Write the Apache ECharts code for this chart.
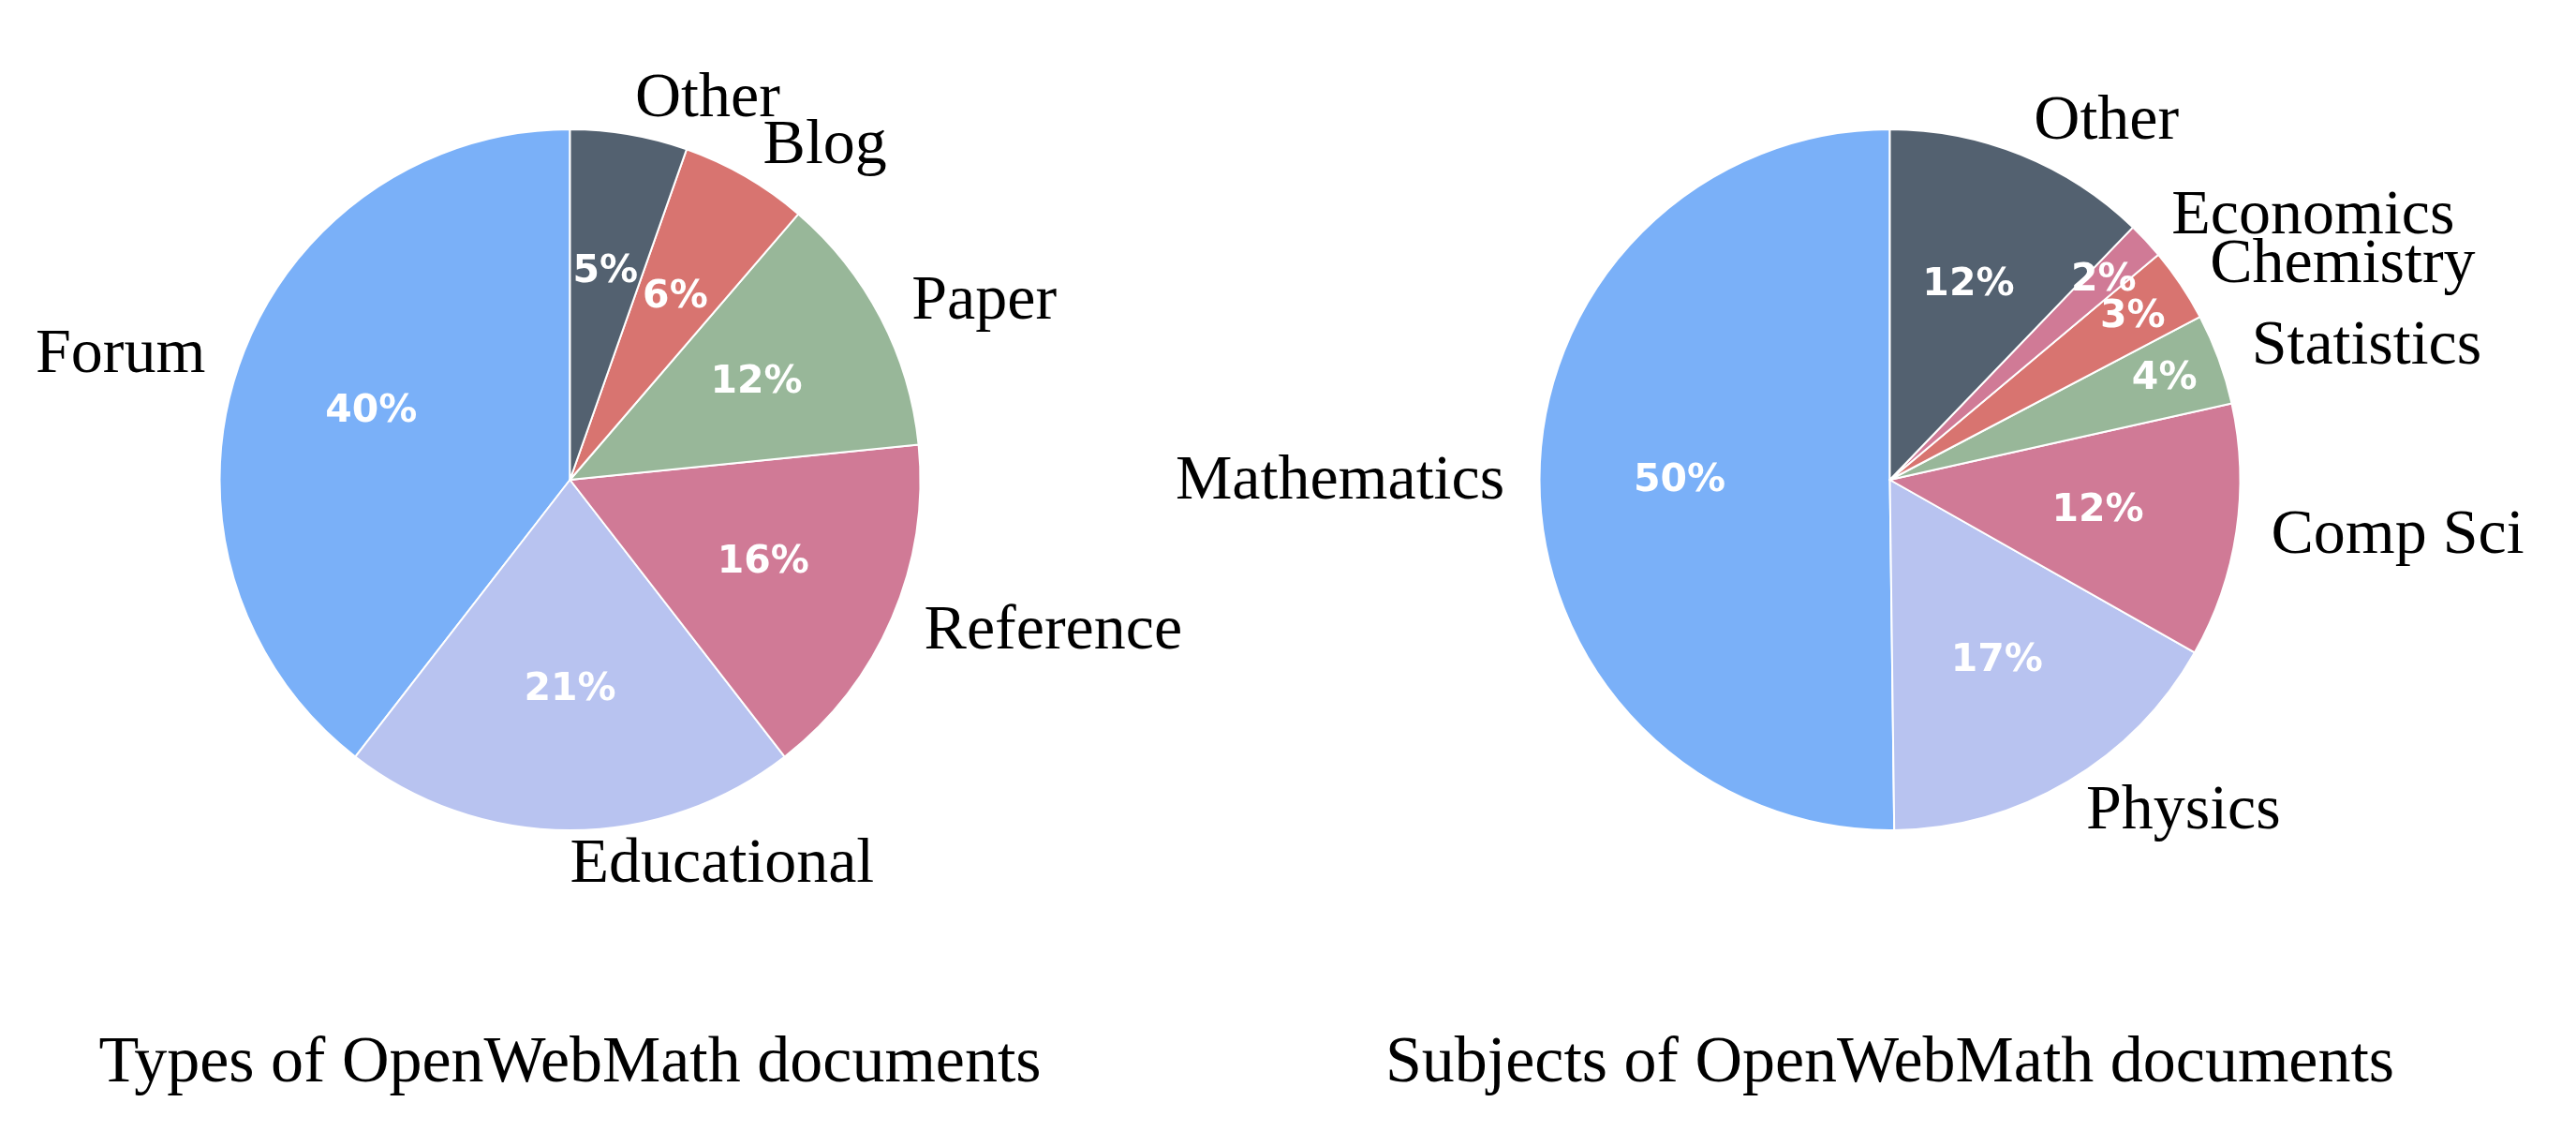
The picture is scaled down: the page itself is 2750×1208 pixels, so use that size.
<!DOCTYPE html>
<html>
<head>
<meta charset="utf-8">
<title>OpenWebMath documents</title>
<script src="https://cdn.jsdelivr.net/npm/echarts@6/dist/echarts.min.js"></script>
<style>
  html, body { margin: 0; padding: 0; background: #fff; }
  #chart { width: 2750px; height: 1208px; }
</style>
</head>
<body>
<div id="chart"></div>
<script>
// types of documents (counter-clockwise from 12 o'clock)
const typeNames = ['Forum', 'Educational', 'Reference', 'Paper', 'Blog', 'Other']
const typeValues = [39.5, 21, 16.1, 12.1, 5.9, 5.4]

// subjects of documents
const subjectNames = ['Mathematics', 'Physics', 'Comp Sci', 'Statistics', 'Chemistry', 'Economics', 'Other']
const subjectValues = [50.2, 16.6, 11.7, 4.2, 3.4, 1.7, 12.2]

const titles = ['Types of OpenWebMath documents', 'Subjects of OpenWebMath documents']

const typeColors = ['#7ab0f8', '#b8c3f0', '#d07a96', '#98b799', '#d87470', '#536170']
const subjectColors = ['#7ab0f8', '#b8c3f0', '#d07a96', '#98b799', '#d87470', '#d07a96', '#536170']

const R = 374
const centers = [[608.5, 512], [2017.5, 512]]
const serif = 'Liberation Serif'
// thin slices get their percent pushed further out
const pushedOut = ['Statistics', 'Chemistry', 'Economics']

function toData(names, values, colors) {
  return names.map((name, i) => ({ name, value: values[i], itemStyle: { color: colors[i] } }))
}

// wedges + outside name labels
function pieSeries(names, values, colors, center) {
  return {
    type: 'pie',
    center,
    radius: [0, R],
    startAngle: 90,
    clockwise: false,
    avoidLabelOverlap: false,
    labelLayout: { hideOverlap: false },
    silent: true,
    animation: false,
    itemStyle: { borderColor: '#fff', borderWidth: 2 },
    label: {
      show: true,
      position: 'outside',
      distanceToLabelLine: 0,
      formatter: '{b}',
      fontFamily: serif,
      fontSize: 68,
      color: '#000'
    },
    labelLine: { show: false, length: R * 0.1, length2: 0 },
    data: toData(names, values, colors)
  }
}

// invisible copy, only there to place the percent text at dist * R
// (inside labels sit at r/2 plus 3px, hence the -6)
function pctSeries(names, values, center, dist, keep) {
  return {
    type: 'pie',
    center,
    radius: [0, R * dist * 2 - 6],
    startAngle: 90,
    clockwise: false,
    avoidLabelOverlap: false,
    labelLayout: { hideOverlap: false },
    silent: true,
    animation: false,
    itemStyle: { color: 'rgba(0,0,0,0)', borderWidth: 0 },
    label: {
      show: true,
      position: 'inside',
      formatter: p => Math.round(p.percent) + '%',
      fontFamily: 'DejaVu Sans',
      fontWeight: 'bold',
      fontSize: 41,
      color: '#fff'
    },
    labelLine: { show: false },
    data: names.map((name, i) => ({
      name,
      value: values[i],
      label: { show: keep(name) }
    }))
  }
}

const chart = echarts.init(document.getElementById('chart'), null, { renderer: 'canvas' })

chart.setOption({
  backgroundColor: '#fff',
  title: titles.map((text, i) => ({
    text,
    left: centers[i][0],
    top: 1101,
    textAlign: 'center',
    padding: 0,
    textStyle: {
      fontFamily: serif,
      fontSize: 70,
      fontWeight: 'normal',
      lineHeight: 70,
      color: '#000'
    }
  })),
  series: [
    pieSeries(typeNames, typeValues, typeColors, centers[0]),
    pctSeries(typeNames, typeValues, centers[0], 0.6, () => true),
    pieSeries(subjectNames, subjectValues, subjectColors, centers[1]),
    pctSeries(subjectNames, subjectValues, centers[1], 0.6, n => !pushedOut.includes(n)),
    pctSeries(subjectNames, subjectValues, centers[1], 0.835, n => pushedOut.includes(n))
  ]
})
</script>
</body>
</html>
